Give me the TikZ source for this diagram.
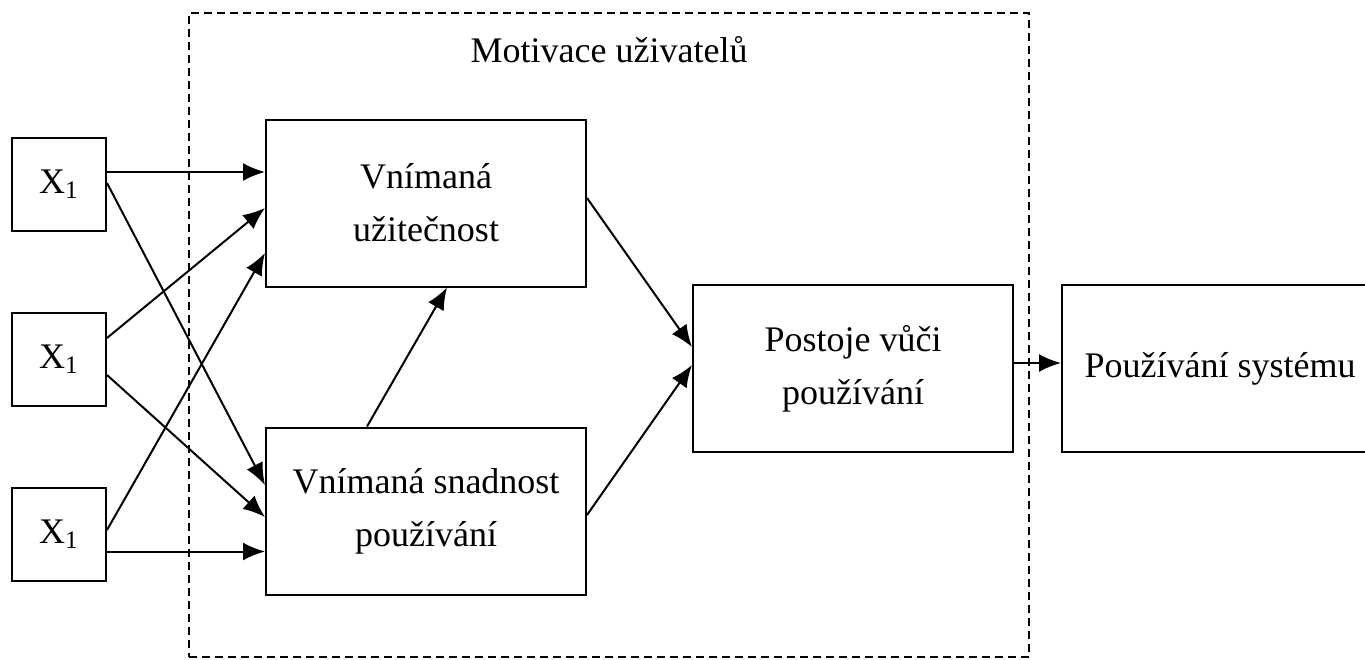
\documentclass[tikz,border=0pt]{standalone}
\usepackage{fontspec}
\setmainfont{Liberation Serif}
\usetikzlibrary{arrows.meta,positioning}

\begin{document}
\begin{tikzpicture}[x=0.5pt,y=-0.5pt]
\useasboundingbox (0,0) rectangle (1365,659);

\begin{scope}[node distance=87.5pt,every node/.style={draw,line width=1pt,align=center,inner sep=0pt,font=\fontsize{18}{26.5}\selectfont},xbox/.style={minimum width=47pt,minimum height=46.5pt},bigbox/.style={minimum width=160pt,minimum height=83.5pt},arr/.style={-{Latex[length=11pt,width=9pt]},line width=1pt}]
% Nodes
\node[draw=none,anchor=base] (title) at (609,62) {Motivace uživatelů};
\node[xbox] (x1) at (59,184.5) {X\textsubscript{1}};
\node[xbox,below of = x1] (x2) {X\textsubscript{1}};
\node[xbox,below of = x2] (x3) {X\textsubscript{1}};
\node[bigbox] (uzit) at (426,203) {Vnímaná\\užitečnost};
\node[bigbox] (snad) at (426,511) {Vnímaná snadnost\\používání};
\node[bigbox] (post) at (853,368.5) {Postoje vůči\\používání};
\node[bigbox,minimum width=158pt] (pouz) at (1220,368.5) {Používání systému};
\node[dashed,dash pattern=on 4pt off 2.5pt,minimum width=420pt,minimum height=322pt] (frame) at (609,335) {};

%arcs
\path ([yshift=6.25pt]x1.east) edge[arr] ([yshift=15.5pt]uzit.west);
\path ([yshift=0.75pt]x1.east) edge[arr] ([yshift=13pt]snad.west);
\path ([yshift=10.75pt]x2.east) edge[arr] ([yshift=-2.5pt]uzit.west);
\path ([yshift=-7.75pt]x2.east) edge[arr] ([yshift=-3pt]snad.west);
\path ([yshift=2.25pt]x3.east) edge[arr] ([yshift=-25pt]uzit.west);
\path ([yshift=-8.5pt]x3.east) edge[arr] ([yshift=-20.25pt]snad.west);

\path ([xshift=-29.5pt]snad.north) edge[arr] ([xshift=10.5pt]uzit.south);
\path ([yshift=2.5pt]uzit.east) edge[arr] ([yshift=10.75pt]post.west);
\path ([yshift=-2pt]snad.east) edge[arr] ([yshift=1.75pt]post.west);
\path ([yshift=2.75pt]post.east) edge[arr] ([yshift=2.75pt]pouz.west);
\end{scope}

\end{tikzpicture}
\end{document}
